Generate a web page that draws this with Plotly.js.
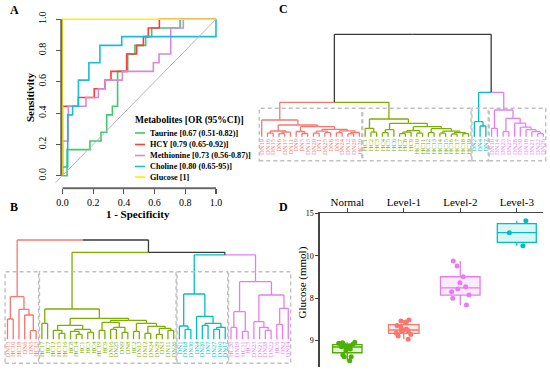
<!DOCTYPE html>
<html><head><meta charset="utf-8">
<script src="https://cdn.plot.ly/plotly-3.0.1.min.js"></script>
<style>html,body{margin:0;padding:0;background:#fff}</style>
</head><body><div id="chart" style="width:550px;height:373px"></div>
<script>
// ---------- Panel A : ROC curves ----------
const rocNames = ['Taurine [0.67 (0.51-0.82)]','HCY [0.79 (0.65-0.92)]','Methionine [0.73 (0.56-0.87)]','Choline [0.80 (0.65-95)]','Glucose [1]'];
const taurineX = [0,0.03,0.03,0.179,0.179,0.251,0.251,0.288,0.288,0.325,0.325,0.359,0.359,0.425,0.425,0.472,0.472,0.542,0.542,0.581,0.581,0.766,0.766,1];
const taurineY = [0,0,0.167,0.167,0.222,0.222,0.278,0.278,0.389,0.389,0.444,0.444,0.667,0.667,0.778,0.778,0.833,0.833,0.889,0.889,0.944,0.944,1,1];
const hcyX = [0,0,0.103,0.103,0.207,0.207,0.277,0.277,0.316,0.316,0.418,0.418,0.483,0.483,0.527,0.527,0.559,0.559,0.631,0.631,1];
const hcyY = [0,0.444,0.444,0.5,0.5,0.556,0.556,0.611,0.611,0.667,0.667,0.778,0.778,0.833,0.833,0.889,0.889,0.944,0.944,1,1];
const methX = [0,0,0.038,0.038,0.153,0.153,0.234,0.234,0.277,0.277,0.39,0.39,0.592,0.592,0.629,0.629,0.705,0.705,0.787,0.787,1];
const methY = [0,0.222,0.222,0.444,0.444,0.5,0.5,0.556,0.556,0.611,0.611,0.667,0.667,0.722,0.722,0.778,0.778,0.944,0.944,1,1];
const cholX = [0,0,0.034,0.034,0.066,0.066,0.104,0.104,0.172,0.172,0.244,0.244,0.386,0.386,1,1];
const cholY = [0,0.056,0.056,0.389,0.389,0.444,0.444,0.611,0.611,0.722,0.722,0.833,0.833,0.889,0.889,1];
const glucX = [0,0,1];
const glucY = [0,1,1];
const rocTicks = [0,0.2,0.4,0.6,0.8,1.0];

// ---------- Panel B : dendrogram (nested [left, right, height]) ----------
const bRed = [["DN15","HC10",20.3],["HC18",["DN6",["DN5","HC13",8.6],24.3],30],42.6];
const bGreen = [["HC17","HC7",16],
  [[["HC12",["HC15","HC16",6],9],[["HC8",["HC14","HC1",5],8],["HC3","HC4",7],10],14],
   [[["HC19","HC9",9],[["DN16","DN25",10],["DN9","DN8",7],12],17],
    [["HC2","DN13",8],[["DN12","DN24",6],[["DN29","DN3",5],["DN11","DN26",9],11],13],16],19],21],30.3];
const bCyan = [["DN1",["DN18","DN30",10],13.3],["DN4",[["DN20","DN7",14],[["DN27","DN10",10],"DN17",12],16],23],45.3];
const bViolet = [[["HC20","DN19",12],["HC11","HC5",8],27.6],[["DN23",["DN21",["DN28","DN22",9],12],17.6],[["HC6","DN2",15],"DN14",31],44.3],57.6];
const bTop = ["red",["green",["cyan","violet",84.5],87],99.3];

// ---------- Panel C : dendrogram ----------
const cRed = ["DN19",
  [[["DN16","DN15",3.5],[["DN6","DN17",3],"DN11",4.5],5.7],
   [["DN9",["DN5","DN13",3.2],5.2],
    [[["DN20","DN1",3.5],["DN25","DN8",4],5.5],[["DN3","DN24",4],[["DN12","DN29",2.8],"HC20",4.2],5.8],7.4],10],11.7],16.7];
const cGreen = [["HC1",["HC2","HC3",4.5],8.4],
  [[["HC4","HC5",4],"HC6",7],
   [[[["HC7","HC8",3],"HC9",4.5],["HC10","HC11",3.5],6],
    [["HC12","HC13",4],[["HC14","HC15",3.5],[["HC16","HC17",2.5],["HC18","HC19",3],4],5.5],8],10],13.4],17.7];
const cCyan = ["DN2",["DN4","DN7",10.7],15];
const cViolet = [["DN10","DN14",8.4],[["DN23","DN27",5],["DN28",["DN30",["DN18",["DN21",["DN22","DN26",3],5],7],9.5],13.5],18.4],26.7];
const cTop = [["red","green",34.4],["cyan","violet",44.4],102.4];

// ---------- Panel D : glucose box plot ----------
const levels = ['Normal','Level-1','Level-2','Level-3'];
const gNormal = [-0.21,-0.53,-0.33,-0.26,-0.61,-1.0,-0.92,-0.80,-0.73,-1.71,-1.18,-1.91,-1.91,-2.38,-0.73,-0.45];
const gLevel1 = [2.42,2.30,2.18,1.77,1.59,1.36,1.24,1.16,1.06,0.88,0.71,0.53,0.14];
const gLevel2 = [9.38,8.79,6.82,7.52,6.34,6.07,5.75,5.36,4.97,4.18];
const gLevel3 = [14.13,12.71,11.18];
const gTickVals = [15,10,5,0];
const gTickText = ['15','10','8','9'];

// ======================================================================
const W=550,H=373;
const fx=p=>p/W, fy=p=>(H-p)/H;
const SERIF='"Liberation Serif", "Times New Roman", Times, serif';
const CL={red:'#F8766D',green:'#7CAE00',cyan:'#00BFC4',violet:'#E77CF2'};
const rocCol=['#3DCB6B','#FF3B3B','#D987D9','#1BBCD6','#FFF000'];

const traces=[], shapes=[], annotations=[];

// Panel A traces
[[taurineX,taurineY],[hcyX,hcyY],[methX,methY],[cholX,cholY],[glucX,glucY]].forEach((d,i)=>{
  traces.push({type:'scatter',mode:'lines',x:d[0],y:d[1],xaxis:'x',yaxis:'y',name:rocNames[i],
    line:{color:rocCol[i],width:1.6},showlegend:false,hoverinfo:'skip'});
});
shapes.push({type:'line',xref:'x',yref:'y',x0:-0.045,y0:-0.045,x1:1,y1:1,line:{color:'#b5b5b5',width:1}});
shapes.push({type:'line',xref:'x',yref:'y',x0:-0.008,y0:0,x1:-0.008,y1:1,line:{color:'#666',width:2}});
shapes.push({type:'line',xref:'x',yref:'y',x0:0,y0:-0.08,x1:1,y1:-0.08,line:{color:'#666',width:2}});
annotations.push({xref:'paper',yref:'paper',x:fx(30),y:fy(98),xanchor:'center',yanchor:'middle',textangle:-90,showarrow:false,
  text:'<b>Sensitivity</b>',font:{family:SERIF,size:11,color:'#000'}});
// legend (custom)
annotations.push({xref:'paper',yref:'paper',x:fx(133),y:fy(120.5),xanchor:'left',yanchor:'middle',showarrow:false,
  text:'<b>Metabolites [OR (95%CI)]</b>',font:{family:SERIF,size:9.5,color:'#000'}});
const legY=[133,144.5,155.5,166.5,177];
rocNames.forEach((n,i)=>{
  shapes.push({type:'line',xref:'paper',yref:'paper',x0:fx(135),x1:fx(145),y0:fy(legY[i]),y1:fy(legY[i]),line:{color:rocCol[i],width:1.6}});
  annotations.push({xref:'paper',yref:'paper',x:fx(147.5),y:fy(legY[i]),xanchor:'left',yanchor:'middle',showarrow:false,
    text:'<b>'+n+'</b>',font:{family:SERIF,size:8.2,color:'#000'}});
});

// Dendrogram builder
function dendro(top, clusters, xa, ya){
  const segs={}; const leaves=[]; const span={};
  function add(c,x0,y0,x1,y1){ if(!segs[c]) segs[c]={x:[],y:[]}; segs[c].x.push(x0,x1,null); segs[c].y.push(y0,y1,null); }
  function walk(node,color){
    if(typeof node==='string'){
      if(color===null){ return walk(clusters[node],node); }
      const idx=leaves.length+1; leaves.push({label:node,color:color});
      if(!span[color]) span[color]=[idx,idx]; span[color][1]=idx;
      return {x:idx,h:0,c:color};
    }
    const a=walk(node[0],color), b=walk(node[1],color), h=node[2];
    const x=(a.x+b.x)/2;
    add(a.c,a.x,a.h,a.x,h); add(a.c,a.x,h,x,h);
    add(b.c,b.x,b.h,b.x,h); add(b.c,x,h,b.x,h);
    return {x:x,h:h,c:color===null?'black':color};
  }
  walk(top,null);
  Object.keys(segs).forEach(c=>{
    traces.push({type:'scatter',mode:'lines',x:segs[c].x,y:segs[c].y,xaxis:xa,yaxis:ya,
      line:{color:c==='black'?'#3a3a3a':CL[c],width:1.3},showlegend:false,hoverinfo:'skip'});
  });
  return {leaves,span};
}

const dB=dendro(bTop,{red:bRed,green:bGreen,cyan:bCyan,violet:bViolet},'x2','y2');
const dC=dendro(cTop,{red:cRed,green:cGreen,cyan:cCyan,violet:cViolet},'x3','y3');

function rects(d,xr,yr,y0,y1){
  Object.keys(d.span).forEach(c=>{
    const s=d.span[c];
    shapes.push({type:'rect',xref:xr,yref:yr,x0:s[0]-0.42,x1:s[1]+0.42,y0:y0,y1:y1,
      line:{color:'#c0c0c0',width:1.4,dash:'4px,3px'},fillcolor:'rgba(0,0,0,0)'});
  });
}
rects(dB,'x2','y2',-24,67.6);
rects(dC,'x3','y3',-24,28.4);

function tickText(d){ return d.leaves.map(l=>'<span style="color:'+CL[l.color]+'">'+l.label+'</span>'); }
function hexA(h,a){const r=parseInt(h.slice(1,3),16),g=parseInt(h.slice(3,5),16),b=parseInt(h.slice(5,7),16);return 'rgba('+r+','+g+','+b+','+a+')';}

// Panel D traces
const boxCol=['#4DB000','#F8766D','#E77CF2','#00BFC4'];
const boxW=[0.52,0.54,0.70,0.69];
[gNormal,gLevel1,gLevel2,gLevel3].forEach((v,i)=>{
  traces.push({type:'box',y:v,x:v.map(()=>levels[i]),xaxis:'x4',yaxis:'y4',name:levels[i],
    boxpoints:'all',jitter:0.6,pointpos:0,width:boxW[i],whiskerwidth:0,
    marker:{color:boxCol[i],size:5},line:{color:boxCol[i],width:1.3},
    fillcolor:hexA(boxCol[i],0.15),showlegend:false,hoverinfo:'skip'});
});
annotations.push({xref:'paper',yref:'paper',x:fx(301.5),y:fy(283),xanchor:'center',yanchor:'middle',textangle:-90,showarrow:false,
  text:'Glucose (mmol)',font:{family:SERIF,size:11,color:'#000'}});

// panel letters
[['A',14,10],['B',14,207],['C',283,9],['D',283,207]].forEach(p=>{
  annotations.push({xref:'paper',yref:'paper',x:fx(p[1]),y:fy(p[2]),xanchor:'center',yanchor:'middle',showarrow:false,
    text:'<b>'+p[0]+'</b>',font:{family:SERIF,size:12,color:'#000'}});
});

function leafRange(px0,dx,d0,d1){ return [1+(d0-px0)/dx, 1+(d1-px0)/dx]; }
function posOf(val,range,dom){ return dom[0]+(val-range[0])/(range[1]-range[0])*(dom[1]-dom[0]); }

const y2r=[-28,102], y2d=[fy(367.3),fy(237.3)];
const y3r=[-28,106], y3d=[fy(164.7),fy(30.7)];

const layout={
  width:W,height:H,margin:{l:0,r:0,t:0,b:0},paper_bgcolor:'#fff',plot_bgcolor:'rgba(0,0,0,0)',
  font:{family:SERIF,color:'#000'},showlegend:false,
  xaxis:{domain:[fx(54.8),fx(220.6)],range:[-0.05,1.03],anchor:'free',position:fy(188.2),
    tickvals:rocTicks,tickformat:'.1f',ticks:'outside',ticklen:5,tickwidth:1.2,tickcolor:'#555',
    showline:false,zeroline:false,showgrid:false,tickfont:{family:SERIF,size:10},
    title:{text:'<b>1 - Specificity</b>',font:{family:SERIF,size:11},standoff:2}},
  yaxis:{domain:[fy(189.8),fy(16.1)],range:[-0.09,1.02],anchor:'free',position:fx(61.4),
    tickvals:rocTicks,tickformat:'.1f',ticks:'outside',ticklen:5,tickwidth:1.2,tickcolor:'#555',tickangle:-90,
    ticklabelstandoff:6,showline:false,zeroline:false,showgrid:false,tickfont:{family:SERIF,size:10}},
  xaxis2:{domain:[fx(2),fx(292)],range:leafRange(7.5,5.73,2,292),anchor:'free',position:posOf(0,y2r,y2d),
    tickvals:dB.leaves.map((l,i)=>i+1),ticktext:tickText(dB),tickangle:-90,ticks:'',ticklen:0,
    showline:false,zeroline:false,showgrid:false,tickfont:{family:SERIF,size:6.5}},
  yaxis2:{domain:y2d,range:y2r,visible:false,anchor:'x2'},
  xaxis3:{domain:[fx(256),fx(548)],range:leafRange(261.7,5.747,256,548),anchor:'free',position:posOf(0,y3r,y3d),
    tickvals:dC.leaves.map((l,i)=>i+1),ticktext:tickText(dC),tickangle:-90,ticks:'',ticklen:0,
    showline:false,zeroline:false,showgrid:false,tickfont:{family:SERIF,size:6.5}},
  yaxis3:{domain:y3d,range:y3r,visible:false,anchor:'x3'},
  xaxis4:{domain:[fx(320),fx(543.3)],type:'category',categoryorder:'array',categoryarray:levels,range:[-0.483,3.469],
    anchor:'y4',side:'top',showline:true,linecolor:'#444',linewidth:1.6,ticks:'outside',ticklen:4,tickcolor:'#444',
    ticklabelstandoff:-3,showgrid:false,zeroline:false,tickfont:{family:SERIF,size:11}},
  yaxis4:{domain:[fy(367),fy(213.3)],range:[-3.125,15],anchor:'x4',showline:true,linecolor:'#444',linewidth:1.6,
    ticks:'outside',ticklen:3,tickcolor:'#444',tickvals:gTickVals,ticktext:gTickText,showgrid:false,zeroline:false,
    tickfont:{family:SERIF,size:8}},
  shapes:shapes,annotations:annotations
};
Plotly.newPlot('chart',traces,layout,{staticPlot:true,displayModeBar:false});
</script></body></html>
